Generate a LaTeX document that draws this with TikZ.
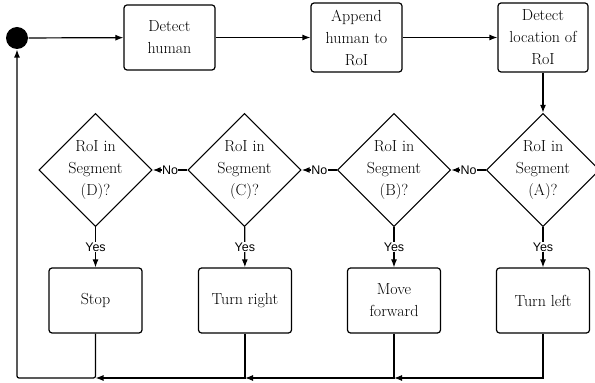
\documentclass[tikz,border=0pt]{standalone}
\usepackage{fontspec}
\newfontfamily\labfont{Liberation Sans}
\usetikzlibrary{shapes.geometric,arrows.meta}
\begin{document}
\begin{tikzpicture}[x=1pt,y=1pt,
  line width=1.2pt,
  >={Latex[length=8pt,width=6pt]},
  txt/.style={font=\fontsize{16}{22}\selectfont, align=center},
  box/.style={txt, draw, rounded corners=3pt, minimum width=91pt, inner sep=0pt},
  dia/.style={txt, draw, diamond, minimum width=111pt, minimum height=106pt, inner sep=0pt},
  lab/.style={font=\labfont\fontsize{12.5}{14}\selectfont, fill=white, inner sep=0.5pt},
  startdot/.style={circle, fill=black, minimum size=22pt, inner sep=0pt}]
\useasboundingbox (0,0) rectangle (595,383);
% top row
\node[startdot] (dot) at (17,345) {};
\node[box, minimum height=65pt] (dh) at (169.5,345.5) {Detect\\human};
\node[box, minimum height=69pt] (ap) at (356.5,345.5) {Append\\human to\\RoI};
\node[box, minimum height=69pt, minimum width=90pt] (dl) at (543,345.5) {Detect\\location of\\RoI};
% diamonds
\node[dia] (dA) at (543,213) {RoI in\\Segment\\(A)?};
\node[dia] (dB) at (394,213) {RoI in\\Segment\\(B)?};
\node[dia] (dC) at (244.5,213) {RoI in\\Segment\\(C)?};
\node[dia] (dD) at (95.5,213) {RoI in\\Segment\\(D)?};
% action boxes
\node[box, minimum height=65pt, minimum width=93pt] (st) at (95.5,82.5) {Stop};
\node[box, minimum height=65pt, minimum width=93pt] (tr) at (245,82.5) {Turn right};
\node[box, minimum height=65pt, minimum width=93pt] (mf) at (394,82.5) {Move\\forward};
\node[box, minimum height=65pt, minimum width=93pt] (tl) at (543,82.5) {Turn left};
% return coordinates
\coordinate (jA) at (394,5);
\coordinate (jB) at (245,5);
\coordinate (jC) at (95.5,5);
\coordinate (corner) at (17,5);
% connectors
\draw[->] (dot) -- (dh);
\draw[->] (dh) -- (ap);
\draw[->] (ap) -- (dl);
\draw[->] (dl) -- (dA);
\draw[->] (dA) -- node[lab]{No} (dB);
\draw[->] (dB) -- node[lab]{No} (dC);
\draw[->] (dC) -- node[lab]{No} (dD);
\draw[->] (dA) -- node[lab]{Yes} (tl);
\draw[->] (dB) -- node[lab]{Yes} (mf);
\draw[->] (dC) -- node[lab]{Yes} (tr);
\draw[->] (dD) -- node[lab]{Yes} (st);
\draw[->] (tl.south) |- (jA);
\draw[->] (mf.south) |- (jB);
\draw[->] (tr.south) |- (jC);
\draw[->, rounded corners=2pt] (st.south) |- (corner) -- (dot);
\end{tikzpicture}
\end{document}
